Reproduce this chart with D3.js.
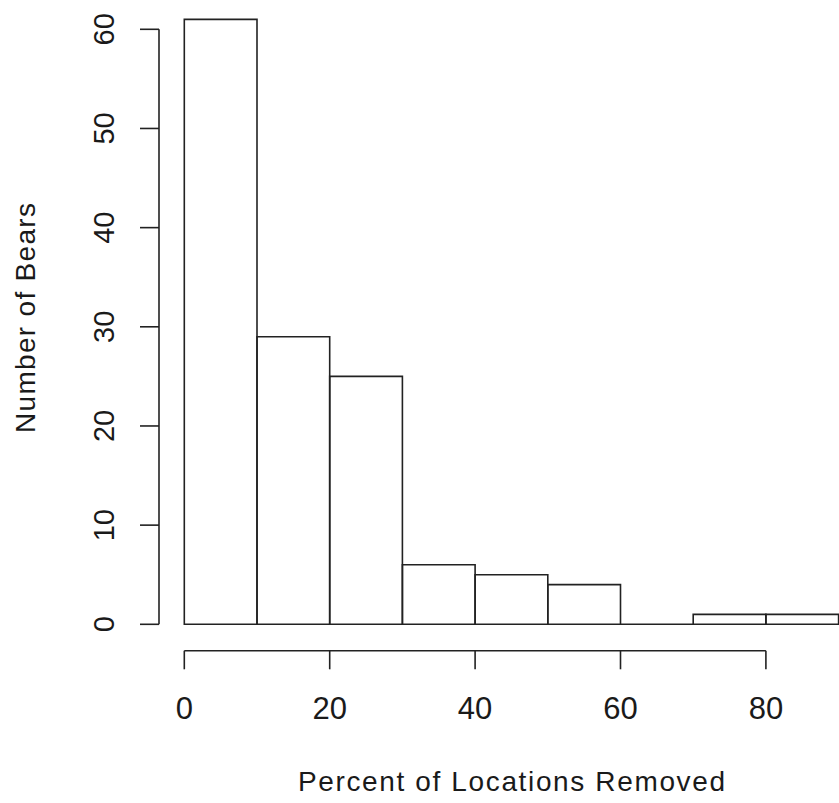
<!DOCTYPE html>
<html><head><meta charset="utf-8">
<script src="https://cdn.jsdelivr.net/npm/d3@7"></script>
<style>body{margin:0;background:#fff}svg{display:block}text{font-family:"Liberation Sans",Arial,sans-serif;fill:#1a1a1a}</style>
</head><body>
<script>
const binEdges = [0,10,20,30,40,50,60,70,80,90];
const counts = [61,29,25,6,5,4,0,1,1];
const xTicks = [0,20,40,60,80];
const yTicks = [0,10,20,30,40,50,60];
const xTitle = "Percent of Locations Removed";
const yTitle = "Number of Bears";

const W=839,H=803;
const svg=d3.select("body").append("svg").attr("width",W).attr("height",H);
const x=d3.scaleLinear().domain([0,90]).range([184.3,838.6]);
const y=d3.scaleLinear().domain([0,60]).range([624.3,29.3]);
const stroke="#222", sw=1.6;

const bins=counts.map((c,i)=>({x0:binEdges[i],x1:binEdges[i+1],c}));
svg.append("g").selectAll("path").data(bins).join("path")
  .attr("d",d=>`M${x(d.x0)},${y(0)}V${y(d.c)}H${x(d.x1)}V${y(0)}Z`)
  .attr("fill","none").attr("stroke",stroke).attr("stroke-width",sw);

// x axis
const gx=svg.append("g").attr("transform","translate(0,650.7)");
gx.append("line").attr("x1",x(0)).attr("x2",x(80)).attr("stroke",stroke).attr("stroke-width",sw);
gx.selectAll("line.t").data(xTicks).join("line").attr("class","t")
  .attr("x1",d=>x(d)).attr("x2",d=>x(d)).attr("y1",0).attr("y2",18.6)
  .attr("stroke",stroke).attr("stroke-width",sw);
gx.selectAll("text").data(xTicks).join("text")
  .attr("x",d=>x(d)).attr("y",68.5).attr("text-anchor","middle")
  .attr("font-size",31).text(d=>d);

// y axis
const gy=svg.append("g").attr("transform","translate(159,0)");
gy.append("line").attr("y1",y(0)).attr("y2",y(60)).attr("stroke",stroke).attr("stroke-width",sw);
gy.selectAll("line.t").data(yTicks).join("line").attr("class","t")
  .attr("y1",d=>y(d)).attr("y2",d=>y(d)).attr("x1",0).attr("x2",-19)
  .attr("stroke",stroke).attr("stroke-width",sw);
gy.selectAll("text").data(yTicks).join("text")
  .attr("transform",d=>`translate(-45.5,${y(d)}) rotate(-90)`)
  .attr("text-anchor","middle").attr("font-size",29).text(d=>d);

svg.append("text").attr("x",511.5).attr("y",791).attr("text-anchor","middle")
  .attr("font-size",28).attr("textLength",427).attr("lengthAdjust","spacing").text(xTitle);
svg.append("text").attr("transform","translate(35,318) rotate(-90)").attr("text-anchor","middle")
  .attr("font-size",28).attr("textLength",230).attr("lengthAdjust","spacing").text(yTitle);
</script>
</body></html>
